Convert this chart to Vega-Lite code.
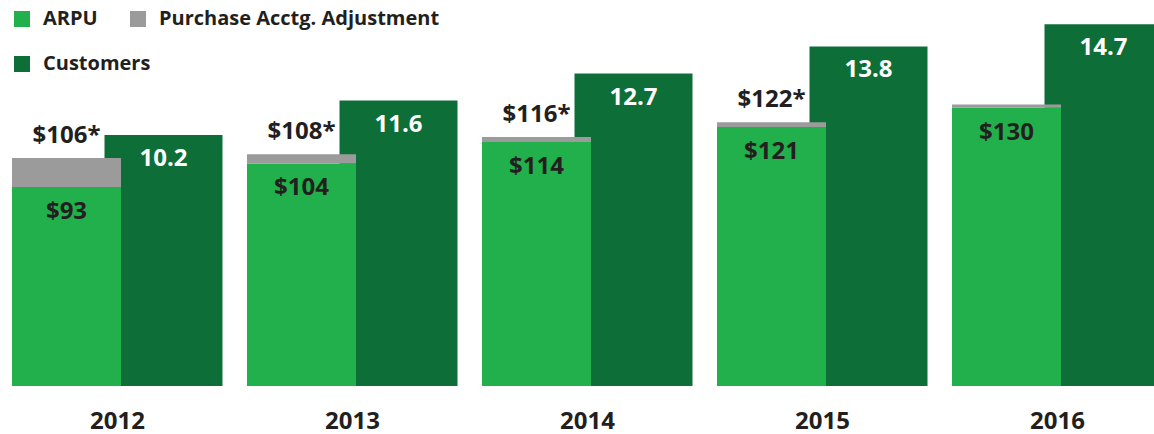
{
  "$schema": "https://vega.github.io/schema/vega-lite/v6.json",
  "width": 1154,
  "height": 386,
  "autosize": {"type": "none"},
  "padding": {"left": 0, "top": 0, "right": 0, "bottom": 48},
  "background": "white",
  "datasets": {
    "arpu": [
      {"year": "2012", "series": "ARPU", "value": 93},
      {"year": "2012", "series": "Purchase Acctg. Adjustment", "value": 13.5},
      {"year": "2013", "series": "ARPU", "value": 104},
      {"year": "2013", "series": "Purchase Acctg. Adjustment", "value": 4.3},
      {"year": "2014", "series": "ARPU", "value": 114},
      {"year": "2014", "series": "Purchase Acctg. Adjustment", "value": 2.4},
      {"year": "2015", "series": "ARPU", "value": 121},
      {"year": "2015", "series": "Purchase Acctg. Adjustment", "value": 2.3},
      {"year": "2016", "series": "ARPU", "value": 130},
      {"year": "2016", "series": "Purchase Acctg. Adjustment", "value": 1.6}
    ],
    "years": [
      {"year": "2012", "arpu": 93, "total": 106.5, "arpuLabel": "$93", "totalLabel": "$106*", "customers": 10.2},
      {"year": "2013", "arpu": 104, "total": 108.3, "arpuLabel": "$104", "totalLabel": "$108*", "customers": 11.6},
      {"year": "2014", "arpu": 114, "total": 116.4, "arpuLabel": "$114", "totalLabel": "$116*", "customers": 12.7},
      {"year": "2015", "arpu": 121, "total": 123.3, "arpuLabel": "$121", "totalLabel": "$122*", "customers": 13.8},
      {"year": "2016", "arpu": 130, "total": 131.6, "arpuLabel": "$130", "totalLabel": "", "customers": 14.7}
    ]
  },
  "encoding": {
    "x": {
      "field": "year",
      "type": "nominal",
      "scale": {"range": [0, 1175], "paddingInner": 0, "paddingOuter": 0},
      "axis": {
        "title": null,
        "domain": false,
        "ticks": false,
        "tickSize": 0,
        "labelAngle": 0,
        "labelPadding": 23,
        "labelFont": "Open Sans",
        "labelFontWeight": "bold",
        "labelFontSize": 24,
        "labelColor": "#231f20",
        "grid": false
      }
    }
  },
  "layer": [
    {
      "data": {"name": "years"},
      "mark": {"type": "bar", "width": 118, "xOffset": 46},
      "encoding": {
        "y": {"field": "customers", "type": "quantitative", "scale": {"domain": [0, 15.69], "nice": false, "zero": true}, "axis": null},
        "color": {
          "datum": "Customers",
          "type": "nominal",
          "scale": {"domain": ["Customers"], "range": ["#0e6e38"]},
          "legend": {
            "title": null,
            "orient": "none",
            "legendX": 12,
            "legendY": 54,
            "symbolType": "square",
            "symbolSize": 256,
            "symbolStrokeWidth": 0,
            "symbolOpacity": 1,
            "labelFont": "Open Sans",
            "labelFontWeight": "bold",
            "labelFontSize": 20,
            "labelColor": "#231f20",
            "labelOffset": 11,
            "labelLimit": 400
          }
        }
      }
    },
    {
      "data": {"name": "years"},
      "mark": {"type": "text", "xOffset": 46, "dy": 31, "baseline": "alphabetic", "align": "center", "font": "Open Sans", "fontWeight": "bold", "fontSize": 24, "color": "white"},
      "encoding": {
        "y": {"field": "customers", "type": "quantitative", "scale": {"domain": [0, 15.69], "nice": false, "zero": true}, "axis": null},
        "text": {"field": "customers", "type": "quantitative", "format": ".1f"}
      }
    },
    {
      "data": {"name": "arpu"},
      "mark": {"type": "bar", "width": 109, "xOffset": -51},
      "encoding": {
        "y": {"field": "value", "type": "quantitative", "stack": "zero", "scale": {"domain": [0, 180.4], "nice": false, "zero": true}, "axis": null},
        "color": {
          "field": "series",
          "type": "nominal",
          "scale": {"domain": ["ARPU", "Purchase Acctg. Adjustment"], "range": ["#21b04b", "#9b9b9b"]},
          "legend": {
            "title": null,
            "orient": "none",
            "legendX": 12,
            "legendY": 9,
            "direction": "horizontal",
            "symbolType": "square",
            "symbolSize": 256,
            "symbolStrokeWidth": 0,
            "symbolOpacity": 1,
            "labelFont": "Open Sans",
            "labelFontWeight": "bold",
            "labelFontSize": 20,
            "labelColor": "#231f20",
            "labelOffset": 11,
            "columnPadding": 30,
            "labelLimit": 400
          }
        },
        "order": {"field": "series", "sort": "ascending"}
      }
    },
    {
      "data": {"name": "years"},
      "mark": {"type": "text", "xOffset": -51, "dy": 32, "baseline": "alphabetic", "align": "center", "font": "Open Sans", "fontWeight": "bold", "fontSize": 24, "color": "#231f20"},
      "encoding": {
        "y": {"field": "arpu", "type": "quantitative", "scale": {"domain": [0, 180.4], "nice": false, "zero": true}, "axis": null},
        "text": {"field": "arpuLabel", "type": "nominal"}
      }
    },
    {
      "data": {"name": "years"},
      "mark": {"type": "text", "xOffset": -51, "dy": -15, "baseline": "alphabetic", "align": "center", "font": "Open Sans", "fontWeight": "bold", "fontSize": 24, "color": "#231f20"},
      "encoding": {
        "y": {"field": "total", "type": "quantitative", "scale": {"domain": [0, 180.4], "nice": false, "zero": true}, "axis": null},
        "text": {"field": "totalLabel", "type": "nominal"}
      }
    }
  ],
  "resolve": {"scale": {"y": "independent", "color": "independent"}},
  "config": {"view": {"stroke": null}}
}
